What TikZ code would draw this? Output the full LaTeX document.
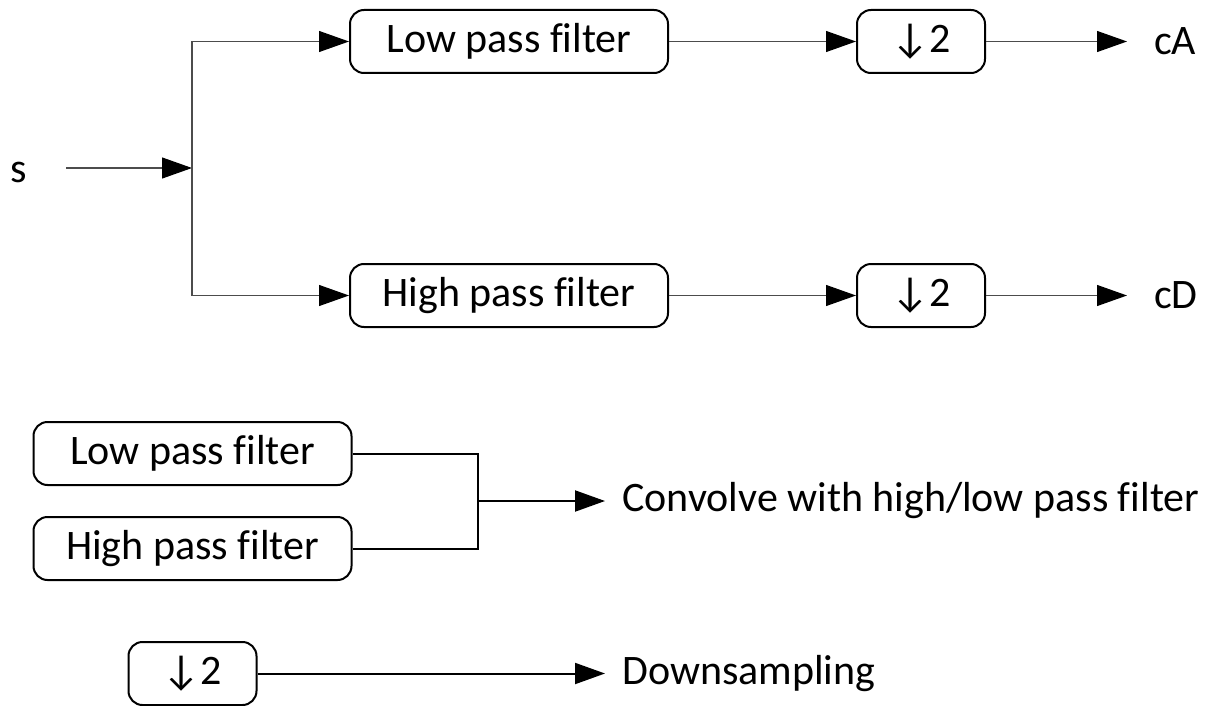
\documentclass[tikz,border=0pt]{standalone}
\usepackage{fontspec}
\setmainfont{Carlito}[Ligatures=NoCommon]
\usetikzlibrary{arrows.meta}
\begin{document}
\begin{tikzpicture}[x=1pt,y=-1pt,
  font=\fontsize{42}{48}\selectfont,
  blk/.style={draw=black,line width=2pt,rounded corners=14pt,minimum height=63pt,inner sep=0pt},
  wide/.style={blk,minimum width=318pt},
  dsbox/.style={blk,minimum width=128pt},
  tip/.style={-{Triangle[length=30pt,width=21pt,color=black,fill=black]}},
  thin/.style={line width=1.1pt,draw=black!70},
  thick/.style={line width=2pt,draw=black},
  lbl/.style={inner sep=0pt,anchor=west}
]
\useasboundingbox (0,0) rectangle (1212,706);

% analysis stage: input splits into a low and a high branch
\node[inner sep=0pt] (s) at (18.5,172) {s};
\coordinate (in) at (66,168);
\coordinate (split) at (192,168);
\node[wide] (lp) at (509,41.5) {Low pass filter};
\node[wide] (hp) at (509,295.5) {High pass filter};
\node[dsbox] (dsa) at (921,41.5) {↓2};
\node[dsbox] (dsd) at (921,295.5) {↓2};
\coordinate (ca) at (1127,41.5);
\coordinate (cd) at (1127,295.5);
\node[lbl] (catext) at (1154,41.5) {cA};
\node[lbl] (cdtext) at (1154,295.5) {cD};

\draw[thin,tip] (in) -- (split);
\draw[thin,tip] (split) |- (lp.west);
\draw[thin,tip] (split) |- (hp.west);
\draw[thin,tip] (lp.east) -- (dsa.west);
\draw[thin,tip] (hp.east) -- (dsd.west);
\draw[thin,tip] (dsa.east) -- (ca);
\draw[thin,tip] (dsd.east) -- (cd);

% legend
\node[wide] (llp) at (192.5,453.5) {Low pass filter};
\node[wide] (lhp) at (192.5,548.5) {High pass filter};
\coordinate (join) at (478,501);
\coordinate (conv) at (605,501);
\node[lbl] (convtext) at (622,501) {Convolve with high/low pass filter};
\draw[thick] (llp.east) -| (join) |- (lhp.east);
\draw[thick,tip] (join) -- (conv);

\node[dsbox] (lds) at (192.5,673.5) {↓2};
\coordinate (down) at (605,673.5);
\node[lbl] (downtext) at (622,673.5) {Downsampling};
\draw[thick,tip] (lds.east) -- (down);
\end{tikzpicture}
\end{document}
